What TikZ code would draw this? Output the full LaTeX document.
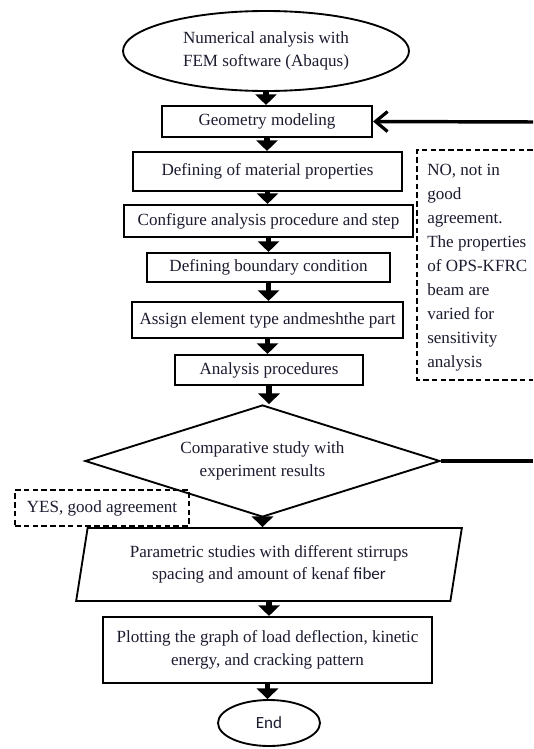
\documentclass[tikz,border=0pt]{standalone}
\usepackage{fontspec}
\setmainfont{Liberation Serif}
\newfontfamily\calib{Carlito}
\usetikzlibrary{shapes.geometric,arrows.meta}
\definecolor{txt}{RGB}{28,28,48}
\tikzset{
  base/.style={draw=black, text=txt, font=\fontsize{12.8}{16.8}\selectfont, align=center, inner sep=0pt},
  procbox/.style={base, rectangle, line width=1.6pt},
  roundterm/.style={base, ellipse, line width=1.4pt},
  decide/.style={base, diamond, aspect=3.17, line width=1.4pt},
  iobox/.style={base, trapezium, trapezium left angle=77, trapezium right angle=103, trapezium stretches=true, line width=1.4pt},
  dashline/.style={draw=black, dash pattern=on 4.2pt off 2.4pt, line width=0.9pt},
  notebox/.style={dashline, text=txt, font=\fontsize{12.8}{14.5}\selectfont, inner sep=0pt},
  flow/.style={line width=4pt, -{Triangle[width=16pt,length=8pt]}},
  backline/.style={line width=2.4pt},
  backarrow/.style={line width=2.6pt, -{Straight Barb[length=9pt,width=15pt,line width=2.4pt]}}
}
\begin{document}
\begin{tikzpicture}[x=0.75pt,y=-0.75pt]
\useasboundingbox (0,0) rectangle (533,749);
\fill[white] (0,0) rectangle (533,749);

\node[roundterm, minimum width=214.5pt, minimum height=60pt] (start) at (266,51) {Numerical analysis with\\FEM software (Abaqus)};
\node[procbox, minimum width=157.5pt, minimum height=23.25pt] (geom) at (267,121.5) {Geometry modeling};
\node[procbox, minimum width=201.75pt, minimum height=29.25pt] (mat) at (267.5,171.5) {Defining of material properties};
\node[procbox, minimum width=216.75pt, minimum height=24pt] (conf) at (268.5,221) {Configure analysis procedure and step};
\node[procbox, minimum width=182.25pt, minimum height=21.75pt] (bc) at (268.5,267.5) {Defining boundary condition};
\node[procbox, minimum width=203.25pt, minimum height=27pt] (mesh) at (267.5,320) {Assign element type andmeshthe part};
\node[procbox, minimum width=141pt, minimum height=22.5pt] (anal) at (269,370) {Analysis procedures};
\node[decide, minimum width=266.25pt, minimum height=84pt] (comp) at (262.5,461) {Comparative study with\\experiment results};
\node[iobox, minimum width=289.5pt, minimum height=54.75pt] (param) at (269,564.5) {Parametric studies with different stirrups\\spacing and amount of kenaf {\calib fiber}};
\node[procbox, minimum width=246.75pt, minimum height=49.5pt] (plot) at (267.5,650) {Plotting the graph of load deflection, kinetic\\energy, and cracking pattern};
\node[roundterm, minimum width=76.5pt, minimum height=34.5pt, font=\calib\fontsize{12.8}{14.5}\selectfont] (endn) at (269,723) {End};

\node[notebox, minimum width=130.5pt, minimum height=27pt] (yes) at (102,508) {YES, good agreement};

% NO note box (open at the picture's right edge)
\coordinate (noTR) at (533,150);
\coordinate (noTL) at (417,150);
\coordinate (noBL) at (417,380);
\coordinate (noBR) at (533,380);
\draw[dashline] (noTR) -- (noTL) -- (noBL) -- (noBR);
\node[text=txt, font=\fontsize{12.8}{18}\selectfont, align=left, anchor=north west, inner sep=0pt] (nonote) at (427,164)
  {NO, not in\\good\\agreement.\\The properties\\of OPS-KFRC\\beam are\\varied for\\sensitivity\\analysis};

\foreach \a/\b in {start/geom, geom/mat, mat/conf, conf/bc, bc/mesh, mesh/anal, anal/comp, comp/param, param/plot, plot/endn}
  \draw[flow] (\a.south) -- (\a.south |- \b.north);

% feedback loop (vertical leg lies beyond the picture's edge)
\coordinate (fbR) at (533,461);
\coordinate (fbT) at (533,122);
\draw[backline] (comp.east) -- (fbR);
\draw[backarrow] (fbT) -- (geom.east);
\end{tikzpicture}
\end{document}
